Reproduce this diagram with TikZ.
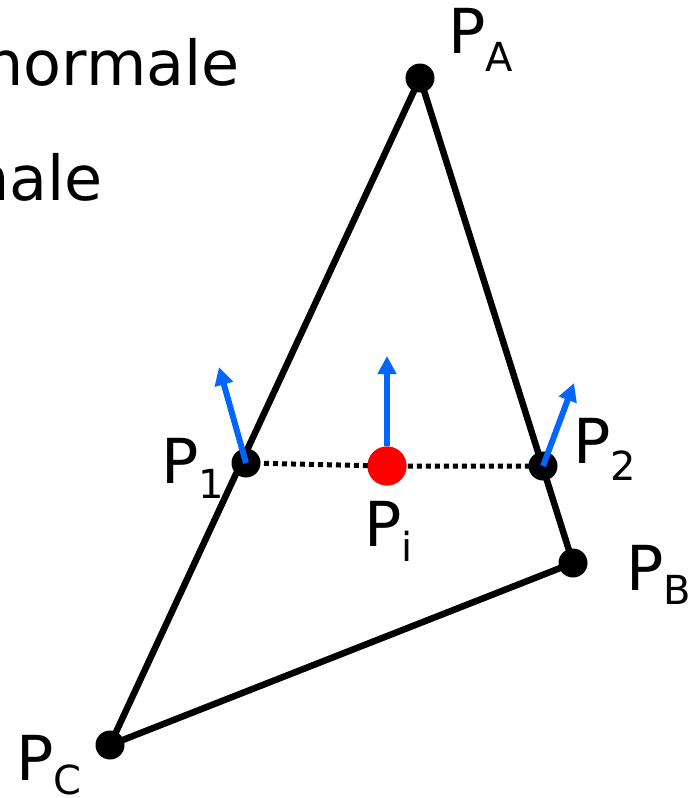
\documentclass[tikz,border=0pt]{standalone}
\usepackage{fontspec}
\setmainfont{DejaVu Sans}
\usetikzlibrary{arrows.meta}
\definecolor{nblue}{RGB}{0,102,255}
\newcommand{\lbl}[2][16pt]{{\fontsize{62}{70}\selectfont P}\raisebox{-#1}{\fontsize{40}{44}\selectfont #2}}
\tikzset{
  edge/.style={line width=6.5pt, line cap=round, line join=round},
  vtx/.style={circle, fill=black, minimum size=29pt, inner sep=0pt},
  redvtx/.style={circle, fill=red, minimum size=39pt, inner sep=0pt},
  normal/.style={nblue, line width=6pt, -{Triangle[length=18pt,width=18pt]}},
  dotline/.style={line width=5pt, dash pattern=on 5pt off 4pt},
  lab/.style={inner sep=0pt, anchor=base west},
  bigtext/.style={inner sep=0pt, anchor=base east, font=\fontsize{62}{70}\selectfont}
}
\begin{document}
\begin{tikzpicture}[x=1pt,y=-1pt]
\useasboundingbox (0,0) rectangle (699,798);
% partial text at left edge
\node[bigtext] (t1) at (240,85) {normale};
\node[bigtext] (t2) at (103,200) {nale};
\node[bigtext] (t3) at (4,500) {e};
% vertices
\coordinate (A) at (420,78);
\coordinate (B) at (573,563);
\coordinate (C) at (110,745);
\coordinate (P1c) at (246,463);
\coordinate (P2c) at (543,466);
\draw[edge] (A) -- (B) -- (C) -- cycle;
\node[redvtx] (Pi) at (387,466) {};
\draw[dotline] (P1c) -- (Pi.center) -- (P2c);
\node[redvtx] at (Pi) {};
\node[vtx] (PA) at (A) {};
\node[vtx] (PB) at (B) {};
\node[vtx] (PC) at (C) {};
\node[vtx] (P1) at (P1c) {};
\node[vtx] (P2) at (P2c) {};
% normals
\coordinate (n1) at (219,367);
\coordinate (ni) at (387,356);
\coordinate (n2) at (574,383);
\draw[normal] (P1.center) -- (n1);
\draw[normal] (Pi.north) -- (ni);
\draw[normal] (P2.center) -- (n2);
% labels
\node[lab] (lA) at (448,53) {\lbl[18pt]{A}};
\node[lab] (l1) at (161,483) {\lbl[15pt]{1}};
\node[lab] (l2) at (573,463) {\lbl[17pt]{2}};
\node[lab] (li) at (364,546) {\lbl[15pt]{i}};
\node[lab] (lB) at (626,590) {\lbl[14pt]{B}};
\node[lab] (lC) at (16,780) {\lbl[14pt]{C}};
\end{tikzpicture}
\end{document}
